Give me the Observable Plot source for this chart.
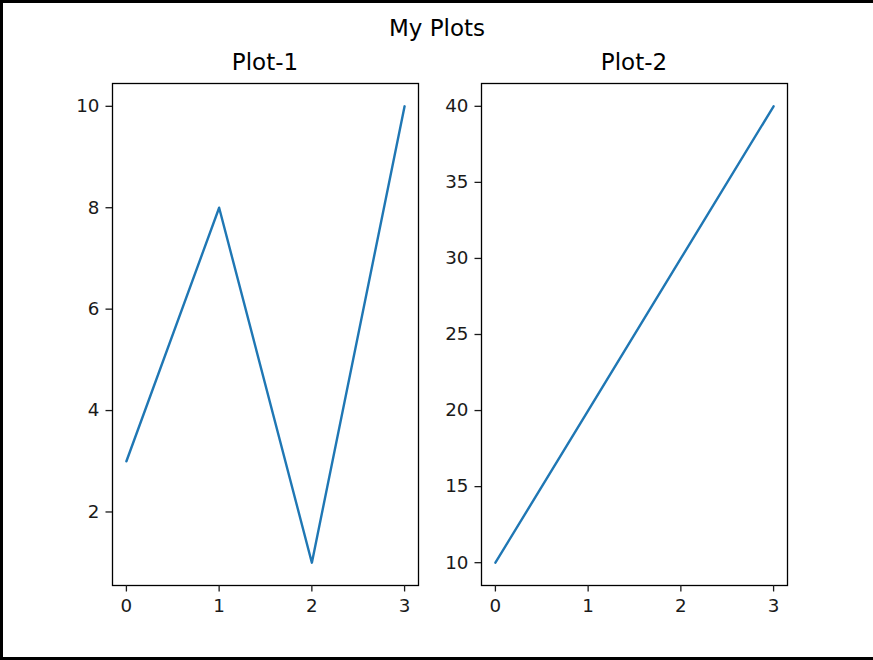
<!DOCTYPE html>
<html>
<head>
<meta charset="utf-8">
<script src="https://cdn.jsdelivr.net/npm/d3@7"></script>
<script src="https://cdn.jsdelivr.net/npm/@observablehq/plot@0.6"></script>
<style>
  html, body { margin: 0; padding: 0; background: #fff; }
  #page { position: relative; width: 873px; height: 660px; background: #fff; overflow: hidden;
          font-family: "DejaVu Sans", sans-serif; color: #000; }
  .bar { position: absolute; background: #000; }
  .ttl { position: absolute; font-size: 23px; line-height: 23px; white-space: nowrap;
         transform: translateX(-50%); }
  .chart { position: absolute; }
</style>
</head>
<body>
<div id="page">
  <div class="bar" style="left:0;top:0;width:873px;height:3px"></div>
  <div class="bar" style="left:0;top:0;width:3px;height:660px"></div>
  <div class="bar" style="left:0;top:657px;width:873px;height:3px"></div>
  <div class="ttl" id="sup" style="left:437px;top:16.5px"></div>
  <div class="ttl" id="t1" style="left:265px;top:50.5px"></div>
  <div class="ttl" id="t2" style="left:634px;top:50.5px"></div>
  <div class="chart" id="c1" style="left:50px;top:40px"></div>
  <div class="chart" id="c2" style="left:420px;top:40px"></div>
</div>
<script>
const suptitle = "My Plots";
const titles = ["Plot-1", "Plot-2"];
const xValues = [0, 1, 2, 3];
const series1 = [3, 8, 1, 10];
const series2 = [10, 20, 30, 40];
const xTicks = [0, 1, 2, 3];
const yTicks1 = [2, 4, 6, 8, 10];
const yTicks2 = [10, 15, 20, 25, 30, 35, 40];

document.getElementById("sup").textContent = suptitle;
document.getElementById("t1").textContent = titles[0];
document.getElementById("t2").textContent = titles[1];

function pad(lo, hi) { const m = (hi - lo) * 0.05; return [lo - m, hi + m]; }

function panel(ys, yTicks, marginLeft, marginRight) {
  const data = xValues.map((x, i) => ({x, y: ys[i]}));
  return Plot.plot({
    width: 380, height: 580,
    marginLeft, marginRight, marginTop: 43, marginBottom: 35,
    style: {fontFamily: "DejaVu Sans, sans-serif", fontSize: "18.3px", color: "#1a1a1a", background: "transparent"},
    x: {domain: pad(d3.min(xValues), d3.max(xValues))},
    y: {domain: pad(d3.min(ys), d3.max(ys))},
    marks: [
      Plot.line(data, {x: "x", y: "y", stroke: "#1f77b4", strokeWidth: 2.4}),
      Plot.frame({stroke: "#000", strokeWidth: 1.3}),
      Plot.axisX({ticks: xTicks, tickSize: 6.5, tickPadding: 6.5, strokeWidth: 1.3, label: null, tickFormat: d => String(d), fill: "#1a1a1a"}),
      Plot.axisY({ticks: yTicks, tickSize: 6.5, tickPadding: 6.5, strokeWidth: 1.3, label: null, tickFormat: d => String(d), fill: "#1a1a1a"})
    ]
  });
}

document.getElementById("c1").appendChild(panel(series1, yTicks1, 62, 12));
document.getElementById("c2").appendChild(panel(series2, yTicks2, 61, 13));
</script>
</body>
</html>
